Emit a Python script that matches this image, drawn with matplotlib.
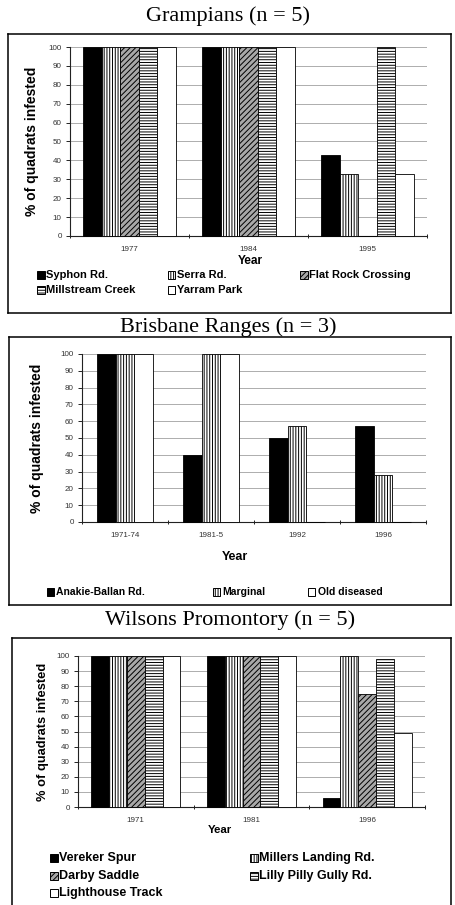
import matplotlib
matplotlib.use("Agg")
import matplotlib.pyplot as plt
import numpy as np
from matplotlib.patches import Rectangle
from matplotlib.lines import Line2D

# ---------------- data ----------------
grampians_years = ["1977", "1984", "1995"]
grampians_sites = ["Syphon Rd.", "Serra Rd.", "Flat Rock Crossing",
                   "Millstream Creek", "Yarram Park"]
grampians_values = [
    [100, 100, 43],   # Syphon Rd.
    [100, 100, 33],   # Serra Rd.
    [100, 100, 0],    # Flat Rock Crossing
    [100, 100, 100],  # Millstream Creek
    [100, 100, 33],   # Yarram Park
]

brisbane_years = ["1971-74", "1981-5", "1992", "1996"]
brisbane_sites = ["Anakie-Ballan Rd.", "Marginal", "Old diseased"]
brisbane_values = [
    [100, 40, 50, 57],   # Anakie-Ballan Rd.
    [100, 100, 57, 28],  # Marginal
    [100, 100, 0, 0],    # Old diseased
]

wilsons_years = ["1971", "1981", "1996"]
wilsons_sites = ["Vereker Spur", "Millers Landing Rd.", "Darby Saddle",
                 "Lilly Pilly Gully Rd.", "Lighthouse Track"]
wilsons_values = [
    [100, 100, 6],    # Vereker Spur
    [100, 100, 100],  # Millers Landing Rd.
    [100, 100, 75],   # Darby Saddle
    [100, 100, 98],   # Lilly Pilly Gully Rd.
    [100, 100, 49],   # Lighthouse Track
]

# ---------------- styles ----------------
STYLE = {
    "solid": dict(facecolor="black", hatch=None),
    "vert": dict(facecolor="white", hatch="||||||"),
    "diag": dict(facecolor="#a8a8a8", hatch="//////"),
    "horiz": dict(facecolor="white", hatch="------"),
    "open": dict(facecolor="white", hatch=None),
}
grampians_styles = ["solid", "vert", "diag", "horiz", "open"]
brisbane_styles = ["solid", "vert", "open"]
wilsons_styles = ["solid", "vert", "diag", "horiz", "open"]

plt.rcParams["hatch.linewidth"] = 0.7
SANS = ["Liberation Sans", "DejaVu Sans"]
SERIF = ["Liberation Serif", "DejaVu Serif"]

W, H = 456, 905
fig = plt.figure(figsize=(W / 100, H / 100), dpi=100)
fig.patch.set_facecolor("white")


def fx(x):
    return x / W


def fy(y):
    return 1 - y / H


def axes_px(l, t, r, b):
    return fig.add_axes([fx(l), fy(b), (r - l) / W, (b - t) / H])


def draw_panel(rect, years, values, styles, width, ylabel_x, ylabel_size,
               year_xy, year_size, tick_size):
    ax = axes_px(*rect)
    n = len(values)
    x = np.arange(len(years))
    for i, (vals, st) in enumerate(zip(values, styles)):
        off = (i - (n - 1) / 2) * width
        s = STYLE[st]
        ax.bar(x + off, vals, width=width, color=s["facecolor"],
               hatch=s["hatch"], edgecolor="black", linewidth=0.6,
               zorder=3, clip_on=False)
    ax.set_xlim(-0.5, len(years) - 0.5)
    ax.set_ylim(0, 100)
    ax.set_yticks(range(0, 101, 10))
    ax.set_yticklabels([str(v) for v in range(0, 101, 10)],
                       fontsize=tick_size, family=SANS, color="#333333")
    ax.set_xticks(x)
    ax.set_xticklabels(years, fontsize=tick_size, family=SANS,
                       color="#333333")
    ax.tick_params(axis="x", length=0, pad=7)
    ax.tick_params(axis="y", length=3, width=0.6, pad=3)
    ax.set_xticks(np.arange(len(years) + 1) - 0.5, minor=True)
    ax.tick_params(axis="x", which="minor", length=3, width=0.6,
                   direction="inout")
    ax.yaxis.grid(True, color="#a0a0a0", linewidth=0.6)
    ax.set_axisbelow(True)
    for side in ("top", "right"):
        ax.spines[side].set_visible(False)
    for side in ("left", "bottom"):
        ax.spines[side].set_linewidth(0.8)
        ax.spines[side].set_color("#222222")
    ax.set_facecolor("none")
    ax.text(fx(ylabel_x), ax.get_position().y0 + ax.get_position().height / 2,
            "% of quadrats infested", transform=fig.transFigure,
            rotation=90, ha="center", va="center", fontsize=ylabel_size,
            fontweight="bold", family=SANS)
    fig.text(fx(year_xy[0]), fy(year_xy[1]), "Year", ha="center",
             va="center", fontsize=year_size, fontweight="bold", family=SANS)
    return ax


def legend_entry(x, y, label, st, size):
    s = STYLE[st]
    sq = 7.5
    r = Rectangle((fx(x), fy(y + sq / 2)), sq / W, sq / H,
                  transform=fig.transFigure, facecolor=s["facecolor"],
                  hatch=s["hatch"], edgecolor="black", linewidth=0.7)
    fig.add_artist(r)
    fig.text(fx(x + sq + 2), fy(y), label, ha="left", va="center",
             fontsize=size, fontweight="bold", family=SANS)


def box(l, t, r, b, bottom=True):
    kw = dict(color="black", linewidth=1.1, transform=fig.transFigure)
    fig.add_artist(Line2D([fx(l), fx(r)], [fy(t), fy(t)], **kw))
    fig.add_artist(Line2D([fx(l), fx(l)], [fy(t), fy(b)], **kw))
    fig.add_artist(Line2D([fx(r), fx(r)], [fy(t), fy(b)], **kw))
    if bottom:
        fig.add_artist(Line2D([fx(l), fx(r)], [fy(b), fy(b)], **kw))


# ---------------- Grampians ----------------
fig.text(fx(228), fy(16), "Grampians (n = 5)", ha="center", va="center",
         fontsize=16, family=SERIF)
box(8, 34, 451, 313)
draw_panel((70, 47, 427, 236), grampians_years, grampians_values,
           grampians_styles, 0.155, 32, 10, (250, 261), 8.6, 5.8)
g_pos = [(37, 275), (168, 275), (300, 275), (37, 290), (168, 290)]
for (px, py), lab, st in zip(g_pos, grampians_sites, grampians_styles):
    legend_entry(px, py, lab, st, 8)

# ---------------- Brisbane Ranges ----------------
fig.text(fx(228), fy(327), "Brisbane Ranges (n = 3)", ha="center",
         va="center", fontsize=16, family=SERIF)
box(9, 337, 451, 605)
draw_panel((82, 354, 426, 522), brisbane_years, brisbane_values,
           brisbane_styles, 0.22, 37, 10, (235, 557), 9, 5.8)
b_pos = [(47, 592), (213, 592), (308, 592)]
for (px, py), lab, st in zip(b_pos, brisbane_sites, brisbane_styles):
    legend_entry(px, py, lab, st, 7.5)

# ---------------- Wilsons Promontory ----------------
fig.text(fx(230), fy(620), "Wilsons Promontory (n = 5)", ha="center",
         va="center", fontsize=16, family=SERIF)
box(12, 638, 451, 906, bottom=False)
draw_panel((78, 656, 425, 807), wilsons_years, wilsons_values,
           wilsons_styles, 0.154, 43, 9.3, (220, 830), 8.2, 5.8)
w_pos = [(50, 858), (250, 858), (50, 876), (250, 876), (50, 893)]
for (px, py), lab, st in zip(w_pos, wilsons_sites, wilsons_styles):
    legend_entry(px, py, lab, st, 9)

fig.savefig("out.png", dpi=100, facecolor="white")
